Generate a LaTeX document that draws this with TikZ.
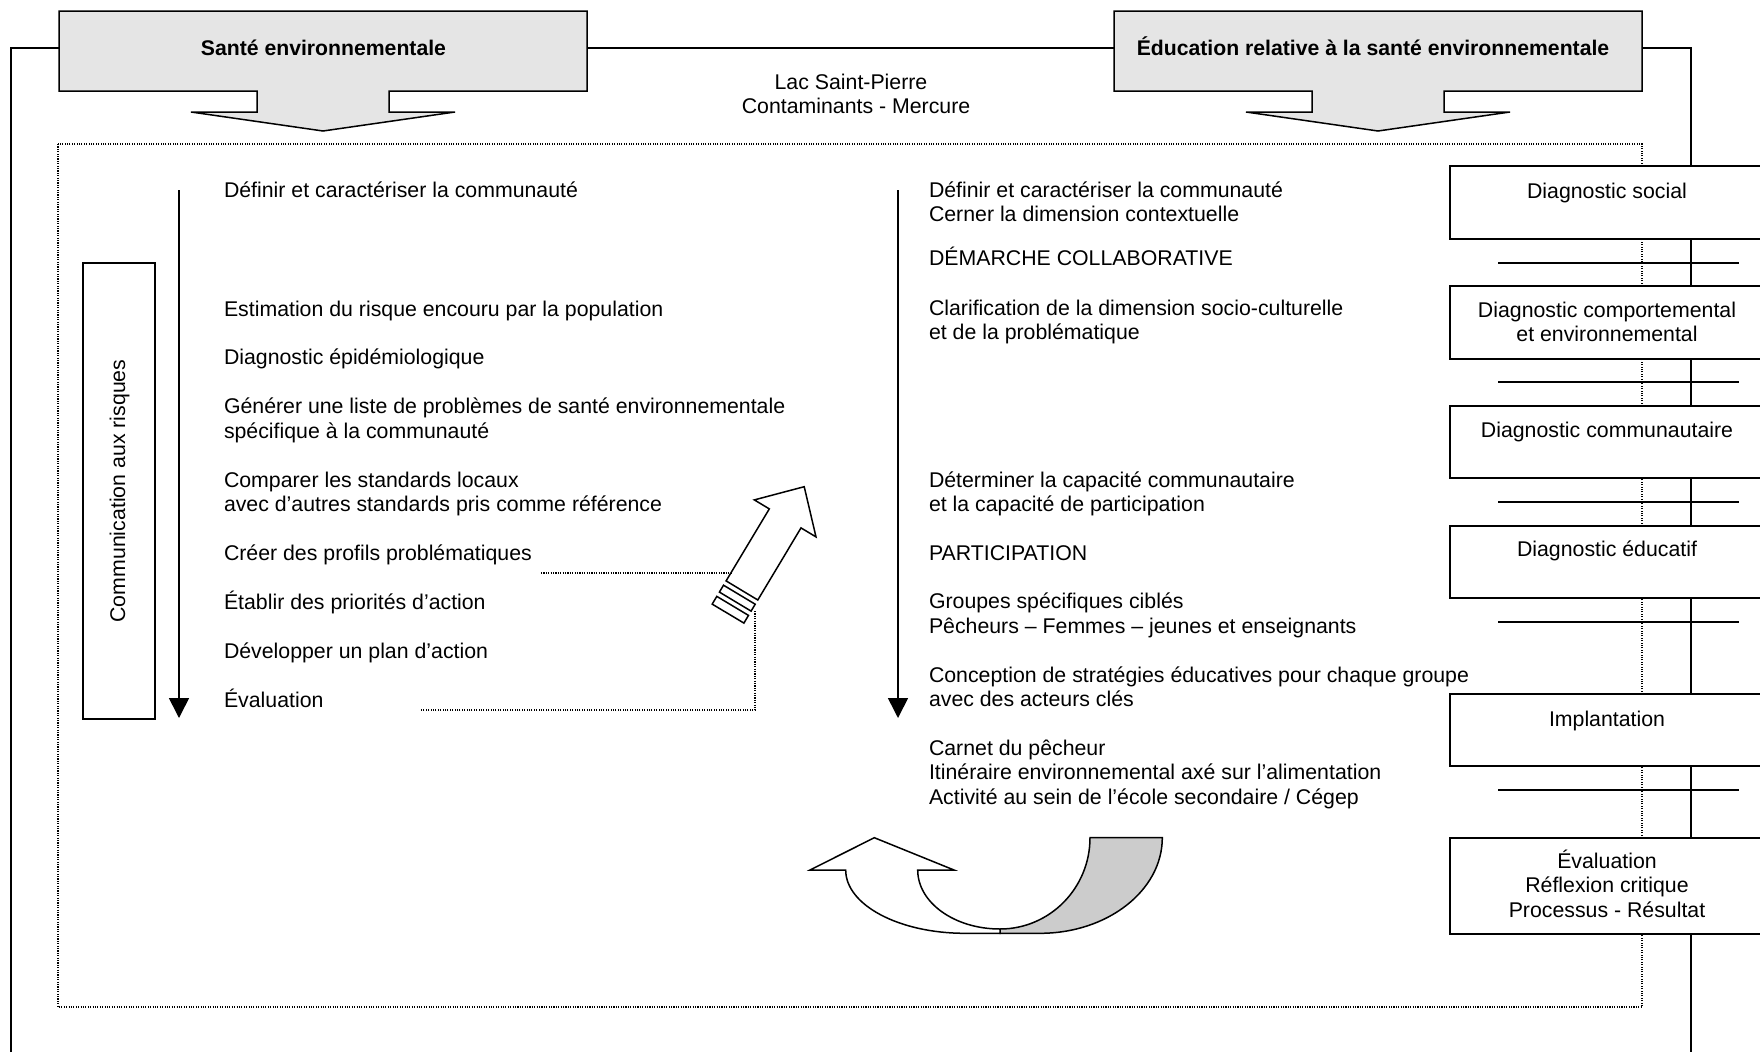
\documentclass[tikz,border=0pt]{standalone}
\usepackage{fontspec}
\setmainfont{Liberation Sans}
\usetikzlibrary{arrows.meta}
\tikzset{
  every node/.style={inner sep=0pt, outer sep=0pt},
  txt/.style={anchor=base west, font=\fontsize{21.3}{24.5}\selectfont},
  ctxt/.style={anchor=base, font=\fontsize{21.3}{24.5}\selectfont},
  htxt/.style={anchor=base, font=\fontsize{21.2}{24.5}\selectfont\bfseries},
  framel/.style={line width=1.2pt},
  dotline/.style={line width=1.1pt, dash pattern=on 1.1pt off 1.3pt},
  hdrbox/.style={draw, line width=1.5pt, fill=gray!20, line join=miter},
  dbox/.style={draw, line width=1.8pt, fill=white, minimum width=314pt},
  sepline/.style={line width=1.6pt},
  flowarrow/.style={line width=1.6pt, -{Triangle[width=20pt,length=20pt]}},
  outl/.style={draw, line width=1.5pt, line join=miter},
}
\begin{document}
\begin{tikzpicture}[x=1pt,y=-1pt]
\useasboundingbox (0,0) rectangle (1760,1052);
% outer frame
\draw[framel] (11,1052) -- (11,48) -- (1691,48) -- (1691,1052);
% dotted frame
\draw[dotline] (58,144) rectangle (1642,1007);
% header callouts
\path[hdrbox] (59,11) -- (587,11) -- (587,91) -- (389,91) -- (389,112) -- (455,112) -- (323,131) -- (191,112) -- (257,112) -- (257,91) -- (59,91) -- cycle;
\node[htxt] (sante) at (323.5,55) {Santé environnementale};
\path[hdrbox] (1114,11) -- (1642,11) -- (1642,91) -- (1444,91) -- (1444,112) -- (1510,112) -- (1378,131) -- (1246,112) -- (1312,112) -- (1312,91) -- (1114,91) -- cycle;
\node[htxt] (educ) at (1373,55) {Éducation relative à la santé environnementale};
% lake
\node[ctxt] (lac1) at (851,89) {Lac Saint-Pierre};
\node[ctxt] (lac2) at (856,113.5) {Contaminants - Mercure};
% right column boxes
\node[dbox, minimum height=73pt] (d1) at (1607,202.5) {};
\node[dbox, minimum height=73pt] (d2) at (1607,322.5) {};
\node[dbox, minimum height=72pt] (d3) at (1607,442) {};
\node[dbox, minimum height=72pt] (d4) at (1607,562) {};
\node[dbox, minimum height=72pt] (d5) at (1607,730) {};
\node[dbox, minimum height=96pt] (d6) at (1607,886) {};
\foreach \yy in {263,382,502,622,790} \draw[sepline] (1498,\yy) -- (1739,\yy);
\node[ctxt] (t1) at (1607,198) {Diagnostic social};
\node[ctxt] (t2a) at (1607,317) {Diagnostic comportemental};
\node[ctxt] (t2b) at (1607,341) {et environnemental};
\node[ctxt] (t3) at (1607,437) {Diagnostic communautaire};
\node[ctxt] (t4) at (1607,556) {Diagnostic éducatif};
\node[ctxt] (t5) at (1607,726) {Implantation};
\node[ctxt] (t6a) at (1607,868) {Évaluation};
\node[ctxt] (t6b) at (1607,892.5) {Réflexion critique};
\node[ctxt] (t6c) at (1607,917) {Processus - Résultat};
% left column
\node[draw, line width=1.6pt, minimum width=72pt, minimum height=456pt] (comm) at (119,491) {};
\node[anchor=base, rotate=90, font=\fontsize{21.3}{24.5}\selectfont] (commtxt) at (125,491) {Communication aux risques};
\coordinate (la1) at (179,190);
\coordinate (la2) at (179,718);
\draw[flowarrow] (la1) -- (la2);
\node[txt] (l1) at (224,197) {Définir et caractériser la communauté};
\node[txt] (l2) at (224,316) {Estimation du risque encouru par la population};
\node[txt] (l3) at (224,364.5) {Diagnostic épidémiologique};
\node[txt] (l4a) at (224,413.5) {Générer une liste de problèmes de santé environnementale};
\node[txt] (l4b) at (224,438) {spécifique à la communauté};
\node[txt] (l5a) at (224,487) {Comparer les standards locaux};
\node[txt] (l5b) at (224,511.5) {avec d’autres standards pris comme référence};
\node[txt] (l6) at (224,560.5) {Créer des profils problématiques};
\node[txt] (l7) at (224,609) {Établir des priorités d’action};
\node[txt] (l8) at (224,658) {Développer un plan d’action};
\node[txt] (l9) at (224,707) {Évaluation};
% middle column
\coordinate (ma1) at (898,190);
\coordinate (ma2) at (898,718);
\draw[flowarrow] (ma1) -- (ma2);
\node[txt] (m1a) at (929,197) {Définir et caractériser la communauté};
\node[txt] (m1b) at (929,221.5) {Cerner la dimension contextuelle};
\node[txt] (m2) at (929,265.5) {DÉMARCHE COLLABORATIVE};
\node[txt] (m3a) at (929,315) {Clarification de la dimension socio-culturelle};
\node[txt] (m3b) at (929,339) {et de la problématique};
\node[txt] (m4a) at (929,487) {Déterminer la capacité communautaire};
\node[txt] (m4b) at (929,511.5) {et la capacité de participation};
\node[txt] (m5) at (929,560) {PARTICIPATION};
\node[txt] (m6a) at (929,608.5) {Groupes spécifiques ciblés};
\node[txt] (m6b) at (929,633) {Pêcheurs – Femmes – jeunes et enseignants};
\node[txt] (m7a) at (929,682) {Conception de stratégies éducatives pour chaque groupe};
\node[txt] (m7b) at (929,706.5) {avec des acteurs clés};
\node[txt] (m8a) at (929,755) {Carnet du pêcheur};
\node[txt] (m8b) at (929,779.5) {Itinéraire environnemental axé sur l’alimentation};
\node[txt] (m8c) at (929,804) {Activité au sein de l’école secondaire / Cégep};
% striped diagonal arrow
\path[outl, fill=white] (726.1,580.9) -- (769.3,508.9) -- (754.3,499.9) -- (804.2,486.7) -- (816.0,536.9) -- (801.0,527.9) -- (757.8,600.0) -- cycle;
\path[outl, fill=white] (723.5,585.2) -- (755.2,604.2) -- (751.1,611.1) -- (719.4,592.1) -- cycle;
\path[outl, fill=white] (716.8,596.4) -- (748.5,615.4) -- (743.9,623.1) -- (712.2,604.1) -- cycle;
% dotted connectors
\coordinate (c1) at (541,573);
\coordinate (c2) at (730.8,573);
\draw[dotline] (c1) -- (c2);
\coordinate (e1) at (755,611);
\coordinate (e2) at (421,710);
\draw[dotline] (e1) |- (e2);
% curved U-turn arrow
\path[outl, fill=gray!40] (1000,929) .. controls (1049.7,929) and (1090,888.1) .. (1090,837.7)
  -- (1162.3,837.7) .. controls (1162.3,890.5) and (1107.5,933.3) .. (1040,933.3)
  -- (1000,933.3) -- cycle;
\path[outl, fill=white] (917.7,870) -- (954,870) -- (874.3,837.7) -- (810,870) -- (845.7,870)
  .. controls (845.7,905) and (899,933.3) .. (965,933.3)
  -- (1000,933.3) -- (1000,929)
  .. controls (954.5,929) and (917.7,902.6) .. (917.7,870) -- cycle;
\end{tikzpicture}
\end{document}
